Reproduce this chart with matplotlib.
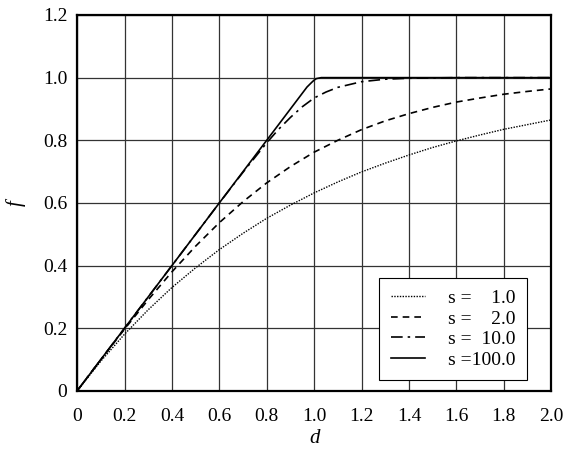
import matplotlib.pyplot as plt

plt.rcParams['font.family'] = ['Liberation Serif', 'DejaVu Serif']

# values
d_grid = [0.0, 0.1, 0.2, 0.3, 0.4, 0.5, 0.6, 0.7, 0.8, 0.9, 1.0,
          1.1, 1.2, 1.3, 1.4, 1.5, 1.6, 1.7, 1.8, 1.9, 2.0]
f_s1 = [0.0, 0.095, 0.181, 0.259, 0.330, 0.393, 0.451, 0.503, 0.551, 0.593, 0.632,
        0.667, 0.699, 0.727, 0.753, 0.777, 0.798, 0.817, 0.835, 0.850, 0.865]
f_s2 = [0.0, 0.100, 0.197, 0.291, 0.380, 0.462, 0.537, 0.604, 0.664, 0.716, 0.762,
        0.800, 0.834, 0.862, 0.885, 0.905, 0.922, 0.935, 0.947, 0.956, 0.964]
d_s10 = [0.0, 0.1, 0.2, 0.3, 0.4, 0.5, 0.6, 0.7, 0.8, 0.85, 0.9, 0.95, 1.0,
         1.05, 1.1, 1.2, 1.3, 1.4, 1.6, 2.0]
f_s10 = [0.0, 0.1, 0.2, 0.3, 0.4, 0.5, 0.6, 0.698, 0.792, 0.835, 0.873, 0.907, 0.935,
         0.954, 0.969, 0.987, 0.995, 0.998, 1.0, 1.0]
d_s100 = [0.0, 0.97, 0.99, 1.0, 1.01, 1.03, 2.0]
f_s100 = [0.0, 0.97, 0.985, 0.992, 0.997, 1.0, 1.0]

labels = ['s =    1.0', 's =    2.0', 's =  10.0', 's =100.0']
x_ticks = [0, 0.2, 0.4, 0.6, 0.8, 1.0, 1.2, 1.4, 1.6, 1.8, 2.0]
x_tick_labels = ['0', '0.2', '0.4', '0.6', '0.8', '1.0', '1.2', '1.4', '1.6', '1.8', '2.0']
y_ticks = [0, 0.2, 0.4, 0.6, 0.8, 1.0, 1.2]
y_tick_labels = ['0', '0.2', '0.4', '0.6', '0.8', '1.0', '1.2']

fig = plt.figure(figsize=(5.67, 4.54), dpi=100)
ax = fig.add_axes([0.136, 0.139, 0.836, 0.828])

ax.plot(d_grid, f_s1, color='black', lw=1.0, linestyle=(0, (1, 1)), label=labels[0])
ax.plot(d_grid, f_s2, color='black', lw=1.2, linestyle=(0, (4, 3)), label=labels[1])
ax.plot(d_s10, f_s10, color='black', lw=1.2, linestyle=(0, (7, 3, 1.5, 3)), label=labels[2])
ax.plot(d_s100, f_s100, color='black', lw=1.2, linestyle='-', label=labels[3])

ax.set_xlim(0, 2.0)
ax.set_ylim(0, 1.2)
ax.set_xticks(x_ticks)
ax.set_xticklabels(x_tick_labels)
ax.set_yticks(y_ticks)
ax.set_yticklabels(y_tick_labels)
ax.tick_params(length=0, labelsize=14)
ax.tick_params(axis='x', pad=12)
ax.tick_params(axis='y', pad=7)
ax.grid(True, color='#333333', lw=0.9)
ax.set_axisbelow(True)
for sp in ax.spines.values():
    sp.set_linewidth(1.6)

ax.set_xlabel('d', fontsize=15, style='italic', labelpad=3)
ax.set_ylabel('f', fontsize=15, style='italic', labelpad=12)

leg = ax.legend(loc='lower right', bbox_to_anchor=(0.95, 0.028), fontsize=14,
                frameon=True, fancybox=False, framealpha=1, edgecolor='black',
                handlelength=1.75, labelspacing=0.15, borderpad=0.6, handletextpad=1.2,
                borderaxespad=0.0)
leg.get_frame().set_linewidth(0.8)

fig.savefig('out.png', dpi=100)
